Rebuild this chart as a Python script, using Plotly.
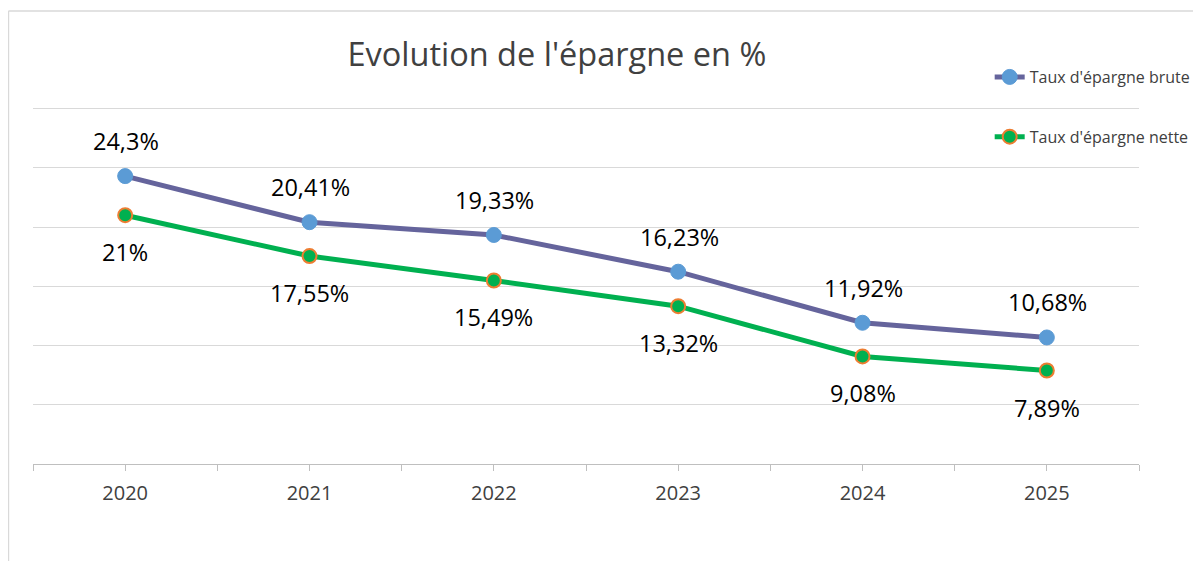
import plotly.graph_objects as go

years = [2020, 2021, 2022, 2023, 2024, 2025]
brute = [24.3, 20.41, 19.33, 16.23, 11.92, 10.68]
nette = [21.0, 17.55, 15.49, 13.32, 9.08, 7.89]
brute_labels = ["24,3%", "20,41%", "19,33%", "16,23%", "11,92%", "10,68%"]
nette_labels = ["21%", "17,55%", "15,49%", "13,32%", "9,08%", "7,89%"]
year_labels = ["2020", "2021", "2022", "2023", "2024", "2025"]

FONT = "Open Sans"
fig = go.Figure()
fig.add_trace(go.Scatter(
    x=years, y=brute, mode="lines+markers", name="Taux d'épargne brute",
    line=dict(color="#65649C", width=5),
    marker=dict(color="#5B9BD5", size=15, line=dict(color="#5B9BD5", width=1)),
    legendgroup="a",
))
fig.add_trace(go.Scatter(
    x=years, y=nette, mode="lines+markers", name="Taux d'épargne nette",
    line=dict(color="#00B050", width=5),
    marker=dict(color="#00B050", size=14, line=dict(color="#ED7D31", width=2)),
    legendgroup="b",
))

annotations = []
for x, y, t in zip(years, brute, brute_labels):
    annotations.append(dict(x=x, y=y, text=t, showarrow=False, yshift=35, xshift=1,
                            font=dict(family=FONT, size=23.5, color="#000000")))
for x, y, t in zip(years, nette, nette_labels):
    annotations.append(dict(x=x, y=y, text=t, showarrow=False, yshift=-37, xshift=0,
                            font=dict(family=FONT, size=23.5, color="#000000")))

# half-category ticks (boundaries + centers)
tickvals = []
ticktext = []
for i, y in enumerate(years):
    tickvals.append(y - 0.5)
    ticktext.append("")
    tickvals.append(y)
    ticktext.append(year_labels[i])
tickvals.append(years[-1] + 0.5)
ticktext.append("")

fig.update_layout(
    width=1201, height=561,
    margin=dict(l=25, r=70, t=97, b=105),
    paper_bgcolor="white", plot_bgcolor="white",
    title=dict(text="Evolution de l'épargne en %", x=0.457, xanchor="center",
               y=0.916, yanchor="middle",
               font=dict(family=FONT, size=32.5, color="#404040")),
    font=dict(family=FONT),
    showlegend=True,
    legend=dict(x=0.865, y=1.1253, xanchor="left", yanchor="top",
                font=dict(family=FONT, size=16, color="#404040"),
                bgcolor="rgba(0,0,0,0)", tracegroupgap=36, traceorder="grouped",
                itemwidth=30),
    annotations=annotations,
    shapes=[
        dict(type="line", xref="paper", yref="paper", x0=-0.0222, x1=1.2, y0=1.2618, y1=1.2618,
             line=dict(color="#D9D9D9", width=1.5)),
        dict(type="line", xref="paper", yref="paper", x0=-0.0222, x1=-0.0222, y0=1.2618, y1=-0.4,
             line=dict(color="#D9D9D9", width=1.5)),
    ],
)
fig.update_xaxes(range=[years[0] - 0.5, years[-1] + 0.5], tickmode="array",
                 tickvals=tickvals, ticktext=ticktext, ticks="outside", ticklen=6,
                 ticklabelstandoff=5,
                 tickcolor="#BFBFBF", showline=True, linecolor="#BFBFBF", linewidth=1,
                 showgrid=False, zeroline=False,
                 tickfont=dict(family=FONT, size=20, color="#404040"))
fig.update_yaxes(range=[0, 30.3], tickvals=[5, 10, 15, 20, 25, 30], showticklabels=False,
                 showgrid=True, gridcolor="#D9D9D9", gridwidth=1, zeroline=False, showline=False)

fig.write_html("out.html")
